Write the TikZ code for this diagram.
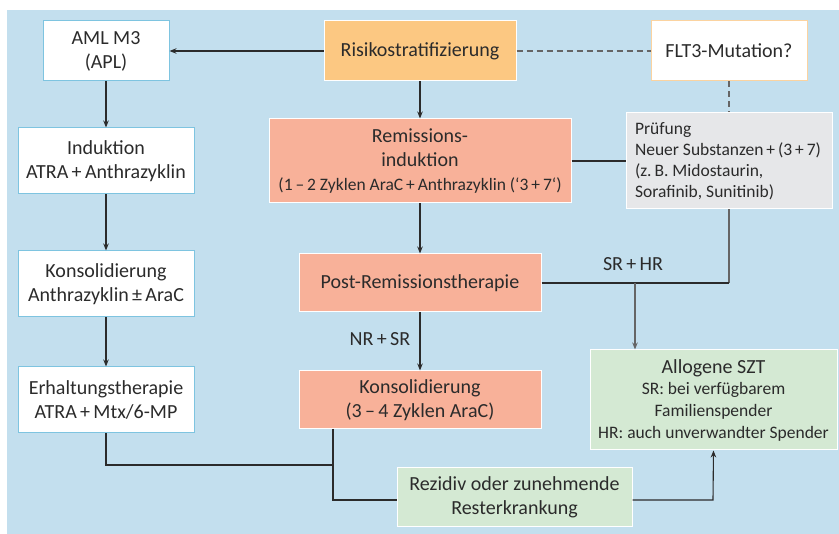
\documentclass[tikz,border=0pt]{standalone}
\usepackage{fontspec}
\setmainfont{Carlito}
\usetikzlibrary{arrows.meta}
\definecolor{bgblue}{HTML}{C3DFEE}
\definecolor{boxorange}{HTML}{FCC882}
\definecolor{boxsalmon}{HTML}{F8B199}
\definecolor{boxgrey}{HTML}{E6E7E9}
\definecolor{boxgreen}{HTML}{D4E9D3}
\definecolor{borderblue}{HTML}{7EC4E0}
\definecolor{borderorange}{HTML}{FBD3A0}
\definecolor{txt}{HTML}{2B2B2B}
\definecolor{linegrey}{HTML}{656565}
\begin{document}
\begin{tikzpicture}[x=1pt,y=-1pt,
  every node/.style={text=txt},
  base/.style={draw, line width=1pt, align=center, inner sep=0pt, font=\fontsize{20}{24}\selectfont},
  whitebox/.style={base, fill=white, draw=borderblue},
  orangebox/.style={base, fill=boxorange, draw=white},
  flbox/.style={base, fill=white, draw=borderorange},
  salmonbox/.style={base, fill=boxsalmon, draw=white},
  greybox/.style={base, fill=boxgrey, draw=white},
  greenbox/.style={base, fill=boxgreen, draw=white},
  conn/.style={line width=1.1pt, draw=txt},
  arr/.style={conn, -{Stealth[length=7pt,width=5.5pt]}},
  dashline/.style={line width=1.1pt, draw=linegrey, dash pattern=on 6pt off 4pt},
  lbl/.style={font=\fontsize{20}{24}\selectfont}
]
\useasboundingbox (0,0) rectangle (839,534);
\fill[bgblue] (7,10) rectangle (839,534);

\node[whitebox, minimum width=126pt, minimum height=60pt] (aml) at (106,51) {AML M3\\(APL)};
\node[orangebox, minimum width=192pt, minimum height=60pt] (risk) at (420,51) {Risikostratifizierung};
\node[flbox, minimum width=156pt, minimum height=60pt] (flt) at (729,51) {FLT3-Mutation?};

\node[whitebox, minimum width=176pt, minimum height=66pt] (ind) at (106,161) {Induktion\\ATRA\,+\,Anthrazyklin};
\node[salmonbox, minimum width=302pt, minimum height=84pt] (rem) at (420,161) {Remissions-\\induktion\\{\fontsize{17.5}{21}\selectfont (1\,–\,2 Zyklen AraC\,+\,Anthrazyklin (‘3\,+\,7‘)}};
\node[greybox, minimum width=206pt, minimum height=96pt, align=left, font=\fontsize{17.5}{21}\selectfont] (pru) at (729,161) {%
  \begin{minipage}{188pt}\raggedright Prüfung\\Neuer Substanzen\,+\,(3\,+\,7)\\(z.\,B. Midostaurin,\\Sorafinib, Sunitinib)\end{minipage}};

\node[whitebox, minimum width=176pt, minimum height=66pt] (kon1) at (106,284) {Konsolidierung\\Anthrazyklin\,±\,AraC};
\node[salmonbox, minimum width=242pt, minimum height=58pt] (post) at (420,283) {Post-Remissionstherapie};

\node[whitebox, minimum width=176pt, minimum height=66pt] (erh) at (106,400) {Erhaltungstherapie\\ATRA\,+\,Mtx/6-MP};
\node[salmonbox, minimum width=242pt, minimum height=58pt] (kon2) at (420,400) {Konsolidierung\\(3\,–\,4 Zyklen AraC)};

\node[greenbox, minimum width=247pt, minimum height=100pt] (allo) at (713.5,400) {Allogene SZT\\[-3pt]{\fontsize{17.5}{21}\selectfont SR: bei verfügbarem}\\[-2pt]{\fontsize{17.5}{21}\selectfont Familienspender}\\[-2pt]{\fontsize{17.5}{21}\selectfont HR: auch unverwandter Spender}};
\node[greenbox, minimum width=235pt, minimum height=59pt] (rez) at (514.5,497.5) {Rezidiv oder zunehmende\\Resterkrankung};

% connectors
\draw[arr] (risk.west) -- (aml.east);
\draw[dashline] (risk.east) -- (flt.west);
\draw[dashline] (flt.south) -- (pru.north);
\draw[arr] (risk.south) -- (rem.north);
\draw[arr] (rem.south) -- (post.north);
\draw[arr] (post.south) -- node[left=6pt, lbl, pos=0.45] {NR\,+\,SR} (kon2.north);
\draw[conn] (rem.east) -- (pru.west);
\coordinate (pjoin) at (729,283);
\coordinate (sjoin) at (635,283);
\draw[conn, draw=linegrey] (pru.south) -- (pjoin);
\draw[conn] (post.east) -- (pjoin);
\node[lbl] (srhr) at (633,264) {SR\,+\,HR};
\draw[arr, draw=linegrey] (sjoin) -- (sjoin |- allo.north);

\draw[arr] (aml.south) -- (ind.north);
\draw[arr] (ind.south) -- (kon1.north);
\draw[arr] (kon1.south) -- (erh.north);

\coordinate (ej) at (106,465);
\coordinate (kj) at (333,465);
\coordinate (kb) at (333,429);
\coordinate (rj) at (333,500);
\draw[conn] (erh.south) -- (ej) -- (kj);
\draw[conn] (kb) -- (rj) -- (rez.west |- rj);
\coordinate (rr) at (713,500);
\draw[arr] (rez.east |- rr) -- (rr) -- (allo.south);
\end{tikzpicture}
\end{document}
